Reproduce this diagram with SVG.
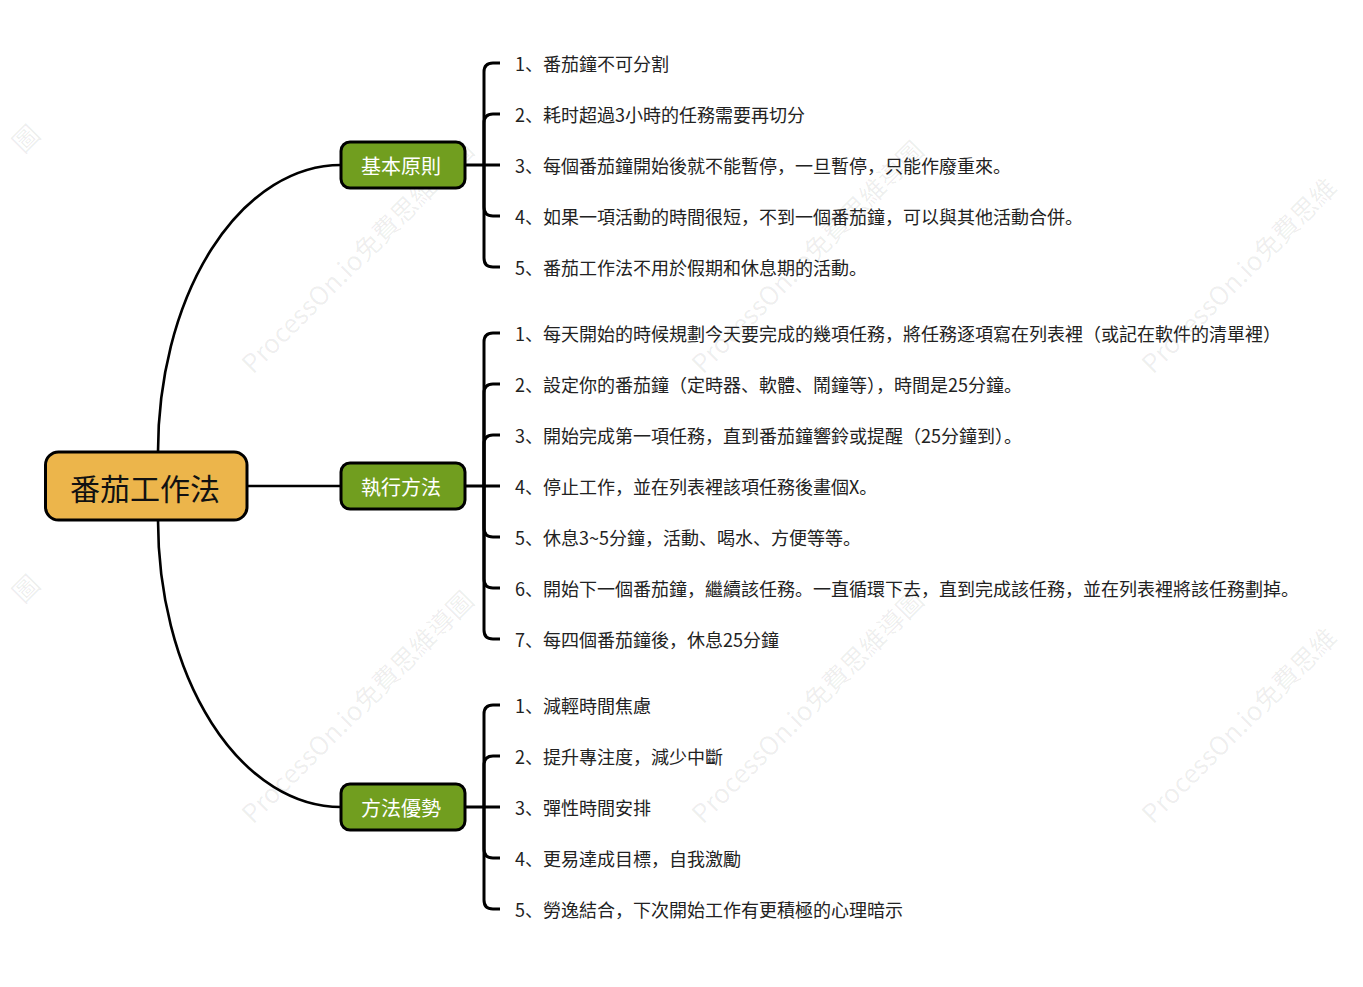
<svg xmlns="http://www.w3.org/2000/svg" width="1363" height="987" viewBox="0 0 1363 987">
<style>
text{font-family:"Noto Sans CJK SC","Noto Sans CJK TC","Noto Sans",sans-serif;}
.wm{font-size:26px;fill:#000;fill-opacity:0.07;}
.item{font-size:18px;fill:#222;dominant-baseline:central;}
.root{fill:#ECB54B;stroke:#000;stroke-width:3;}
.branch{fill:#719E1F;stroke:#000;stroke-width:3;}
.rt{font-size:30px;fill:#111;text-anchor:middle;dominant-baseline:central;}
.bt{font-size:20px;fill:#fff;text-anchor:middle;dominant-baseline:central;}
.c{fill:none;stroke:#000;stroke-width:2.6;}
.b{fill:none;stroke:#000;stroke-width:3;}
</style>
<rect width="1363" height="987" fill="#fff"/>
<g id="watermarks">
<text class="wm" transform="translate(-197,375) rotate(-45)" x="312">圖</text>
<text class="wm" transform="translate(253,375) rotate(-45)">ProcessOn.io免費思維導圖</text>
<text class="wm" transform="translate(703,375) rotate(-45)">ProcessOn.io免費思維導圖</text>
<text class="wm" transform="translate(1153,375) rotate(-45)">ProcessOn.io免費思維</text>
<text class="wm" transform="translate(-197,825) rotate(-45)" x="312">圖</text>
<text class="wm" transform="translate(253,825) rotate(-45)">ProcessOn.io免費思維導圖</text>
<text class="wm" transform="translate(703,825) rotate(-45)">ProcessOn.io免費思維導圖</text>
<text class="wm" transform="translate(1153,825) rotate(-45)">ProcessOn.io免費思維</text>
</g>
<g id="connectors">
<path class="c" d="M158,452 A183,287 0 0 1 341,165"/>
<path class="c" d="M247,486 L341,486"/>
<path class="c" d="M158,520 A183,287 0 0 0 341,807"/>
<path class="b" d="M465,165 L500,165"/>
<path class="b" d="M484,165 L484,72 Q484,63 493,63 L500,63"/>
<path class="b" d="M484,165 L484,123 Q484,114 493,114 L500,114"/>
<path class="b" d="M484,165 L484,207 Q484,216 493,216 L500,216"/>
<path class="b" d="M484,165 L484,258 Q484,267 493,267 L500,267"/>
<path class="b" d="M465,486 L500,486"/>
<path class="b" d="M484,486 L484,342 Q484,333 493,333 L500,333"/>
<path class="b" d="M484,486 L484,393 Q484,384 493,384 L500,384"/>
<path class="b" d="M484,486 L484,444 Q484,435 493,435 L500,435"/>
<path class="b" d="M484,486 L484,528 Q484,537 493,537 L500,537"/>
<path class="b" d="M484,486 L484,579 Q484,588 493,588 L500,588"/>
<path class="b" d="M484,486 L484,630 Q484,639 493,639 L500,639"/>
<path class="b" d="M465,807 L500,807"/>
<path class="b" d="M484,807 L484,714 Q484,705 493,705 L500,705"/>
<path class="b" d="M484,807 L484,765 Q484,756 493,756 L500,756"/>
<path class="b" d="M484,807 L484,849 Q484,858 493,858 L500,858"/>
<path class="b" d="M484,807 L484,900 Q484,909 493,909 L500,909"/>
</g>
<g id="root">
<rect class="root" x="45.5" y="452" width="201.5" height="68" rx="13"/>
<text class="rt" x="145" y="487">番茄工作法</text>
</g>
<g id="branch1">
<rect class="branch" x="341" y="142" width="124" height="46" rx="9"/>
<text class="bt" x="401" y="165">基本原則</text>
</g>
<g id="branch2">
<rect class="branch" x="341" y="463" width="124" height="46" rx="9"/>
<text class="bt" x="401" y="486">執行方法</text>
</g>
<g id="branch3">
<rect class="branch" x="341" y="784" width="124" height="46" rx="9"/>
<text class="bt" x="401" y="807">方法優勢</text>
</g>
<g id="items1">
<text class="item" x="515" y="63">1、番茄鐘不可分割</text>
<text class="item" x="515" y="114">2、耗时超過3小時的任務需要再切分</text>
<text class="item" x="515" y="165">3、每個番茄鐘開始後就不能暫停，一旦暫停，只能作廢重來。</text>
<text class="item" x="515" y="216">4、如果一項活動的時間很短，不到一個番茄鐘，可以與其他活動合併。</text>
<text class="item" x="515" y="267">5、番茄工作法不用於假期和休息期的活動。</text>
</g>
<g id="items2">
<text class="item" x="515" y="333">1、每天開始的時候規劃今天要完成的幾項任務，將任務逐項寫在列表裡（或記在軟件的清單裡）</text>
<text class="item" x="515" y="384">2、設定你的番茄鐘（定時器、軟體、鬧鐘等），時間是25分鐘。</text>
<text class="item" x="515" y="435">3、開始完成第一項任務，直到番茄鐘響鈴或提醒（25分鐘到）。</text>
<text class="item" x="515" y="486">4、停止工作，並在列表裡該項任務後畫個X。</text>
<text class="item" x="515" y="537">5、休息3~5分鐘，活動、喝水、方便等等。</text>
<text class="item" x="515" y="588">6、開始下一個番茄鐘，繼續該任務。一直循環下去，直到完成該任務，並在列表裡將該任務劃掉。</text>
<text class="item" x="515" y="639">7、每四個番茄鐘後，休息25分鐘</text>
</g>
<g id="items3">
<text class="item" x="515" y="705">1、減輕時間焦慮</text>
<text class="item" x="515" y="756">2、提升專注度，減少中斷</text>
<text class="item" x="515" y="807">3、彈性時間安排</text>
<text class="item" x="515" y="858">4、更易達成目標，自我激勵</text>
<text class="item" x="515" y="909">5、勞逸結合，下次開始工作有更積極的心理暗示</text>
</g>
</svg>
